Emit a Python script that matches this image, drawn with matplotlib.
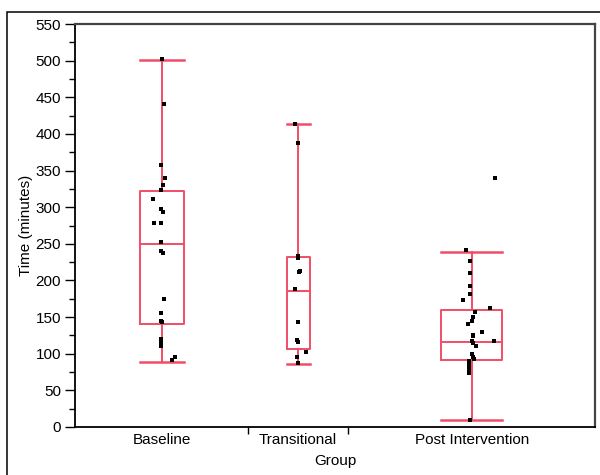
import matplotlib
matplotlib.use("Agg")
import matplotlib.pyplot as plt
from matplotlib.patches import Rectangle
from matplotlib.ticker import MultipleLocator, FixedLocator, NullFormatter

plt.rcParams['font.family'] = ['Liberation Sans', 'DejaVu Sans']

# ---- data ----
groups = ["Baseline", "Transitional", "Post Intervention"]

baseline = [502, 441, 358, 340, 330, 323, 311, 297, 294, 278, 278, 252, 240, 238,
            175, 155, 144, 143, 120, 115, 110, 91, 96]
baseline_jit = [-0.3, 2, -1.3, 3.3, 1.3, -1, -9.3, -1, 0.7, -8, -0.7, -1, -1, 1.5,
                2.3, -1, -1, 0, -1, -1, -1, 10, 13.3]

transitional = [414, 388, 234, 231, 213, 212, 188, 143, 119, 116, 102, 96, 87]
transitional_jit = [-2.7, -0.3, -0.3, 0, 1.5, 0.5, -2.7, 0, -0.7, 0.3, 7.7, -0.7, 0.3]

post = [340, 241, 226, 210, 193, 181, 173, 162, 157, 150, 144, 141, 130, 126, 124,
        118, 117, 115, 111, 99, 96, 93, 90, 88, 86, 84, 82, 80, 78, 76, 74, 9]
post_jit = [23, -6, -1.7, -1.7, -1.7, -1.7, -8.7, 18, 3, 1.3, 0.7, -3.7, 10.3, 1, 1,
            22, 0, 1, 4, 0, 1, 2, -2.7, -2.7, -2.7, -2.7, -2.7, -2.7, -2.7, -2.7, -2.7, -1.7]

# box statistics
q1 = [140, 107, 91]
med = [250, 186, 116]
q3 = [322, 232, 159]
whislo = [89, 86, 9]
whishi = [501, 413, 239]

yticks = list(range(0, 551, 50))

# ---- layout (axis-fraction units) ----
centers = [0.167, 0.429, 0.763]
widths = [0.085, 0.044, 0.117]
bounds = [0.333, 0.525]
px = 1 / 520.0  # jitter given in pixels of axis width

red = '#f24d68'
fs = 11

fig = plt.figure(figsize=(6, 4.75), dpi=100)
# outer frame
fig.patches.append(Rectangle((7 / 600, -0.1), 1.2, 0.1 + (475 - 12) / 475,
                             transform=fig.transFigure, fill=False,
                             edgecolor='black', linewidth=1.1))

ax = fig.add_axes([75 / 600, (475 - 427) / 475, 520 / 600, 403 / 475])

stats = []
for i in range(3):
    stats.append(dict(med=med[i], q1=q1[i], q3=q3[i], whislo=whislo[i],
                      whishi=whishi[i], fliers=[], label=groups[i]))

ax.bxp(stats, positions=centers, widths=widths, showfliers=False,
       boxprops=dict(color=red, linewidth=1.4),
       medianprops=dict(color=red, linewidth=1.4),
       whiskerprops=dict(color=red, linewidth=1.4),
       capprops=dict(color=red, linewidth=1.8),
       capwidths=widths, manage_ticks=False)

for c, vals, jit in zip(centers, [baseline, transitional, post],
                        [baseline_jit, transitional_jit, post_jit]):
    xs = [c + j * px for j in jit]
    ax.scatter(xs, vals, s=7, marker='s', color='black', linewidths=0, zorder=5)

ax.set_xlim(0, 1)
ax.set_ylim(0, 550)
ax.set_yticks(yticks)
ax.yaxis.set_minor_locator(MultipleLocator(25))
ax.tick_params(axis='y', which='major', direction='out', length=7, width=1,
               labelsize=fs, pad=3)
ax.tick_params(axis='y', which='minor', direction='out', length=4, width=1)

ax.xaxis.set_major_locator(FixedLocator(bounds))
ax.xaxis.set_major_formatter(NullFormatter())
ax.xaxis.set_minor_locator(FixedLocator(centers))
ax.set_xticklabels(groups, minor=True)
ax.tick_params(axis='x', which='major', direction='out', length=5, width=1)
ax.tick_params(axis='x', which='minor', length=0, labelsize=fs, pad=4)

for s in ['left', 'bottom']:
    ax.spines[s].set_color('black')
    ax.spines[s].set_linewidth(1.3)
for s in ['top', 'right']:
    ax.spines[s].set_color('#444444')
    ax.spines[s].set_linewidth(1.6)

ax.set_ylabel("Time (minutes)", fontsize=fs, labelpad=2)
ax.set_xlabel("Group", fontsize=fs, labelpad=5)

fig.savefig("out.png", dpi=100)
